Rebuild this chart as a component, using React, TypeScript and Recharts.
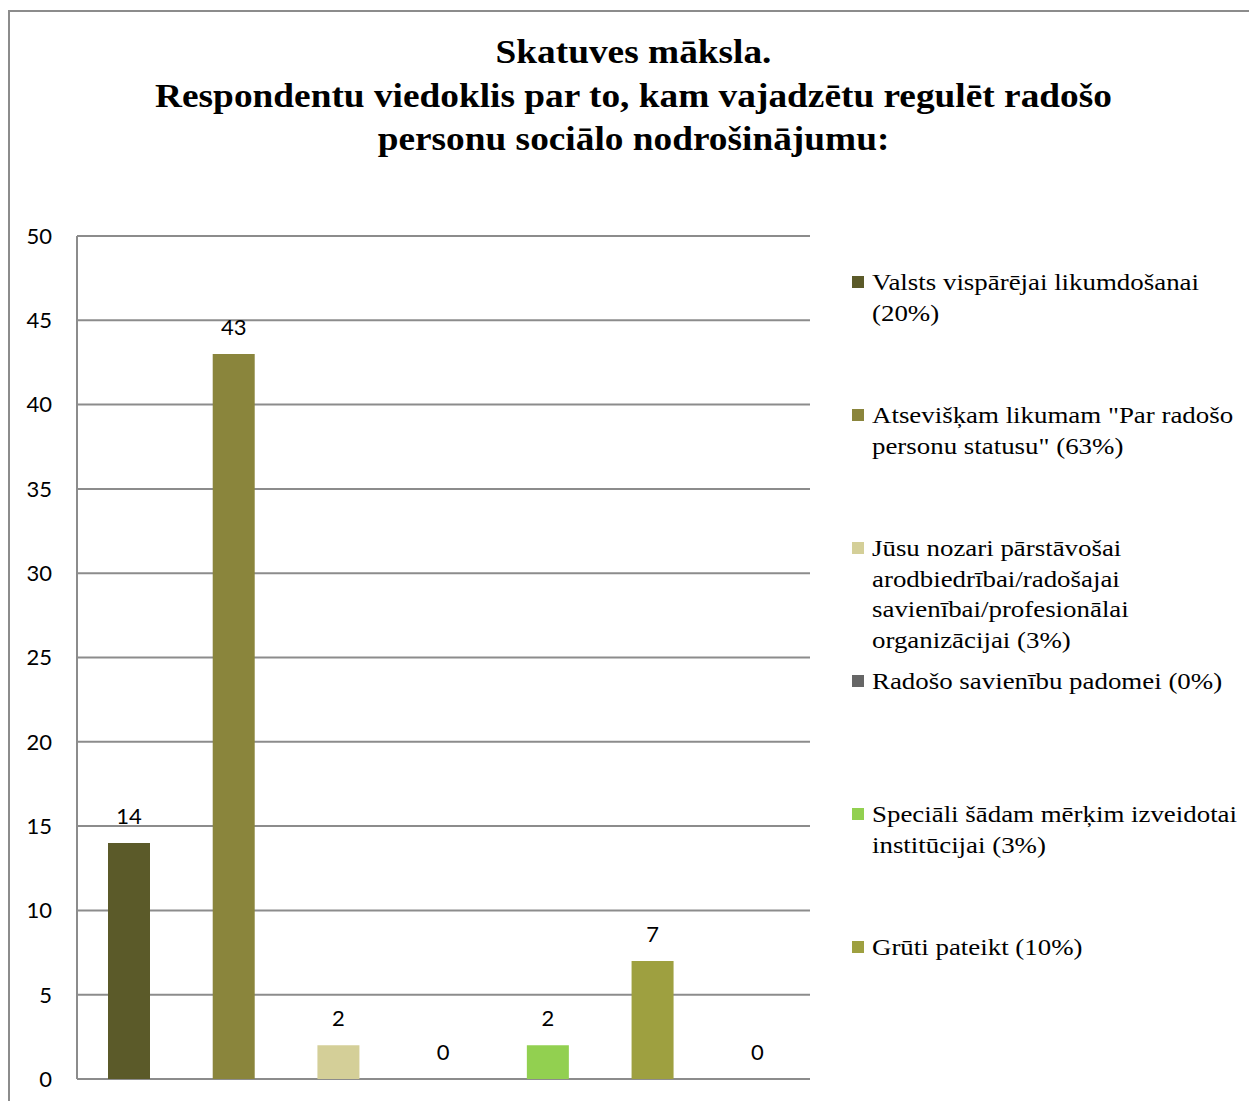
import React from "react";
import { BarChart, Bar, XAxis, YAxis, CartesianGrid, Cell, LabelList } from "recharts";

const titleLines = [
  "Skatuves māksla.",
  "Respondentu viedoklis par to, kam vajadzētu regulēt radošo",
  "personu sociālo nodrošinājumu:",
];

const categories = [
  "Valsts vispārējai likumdošanai (20%)",
  "Atsevišķam likumam \"Par radošo personu statusu\" (63%)",
  "Jūsu nozari pārstāvošai arodbiedrībai/radošajai savienībai/profesionālai organizācijai (3%)",
  "Radošo savienību padomei (0%)",
  "Speciāli šādam mērķim izveidotai institūcijai (3%)",
  "Grūti pateikt (10%)",
  "",
];

const values = [14, 43, 2, 0, 2, 7, 0];

const colors = ["#5b5a29", "#8a853c", "#d4cf98", "#666666", "#92d050", "#9ea040", "#7f7f7f"];

const legendLines = [
  ["Valsts vispārējai likumdošanai", "(20%)"],
  ["Atsevišķam likumam \"Par radošo", "personu statusu\" (63%)"],
  ["Jūsu nozari pārstāvošai", "arodbiedrībai/radošajai", "savienībai/profesionālai", "organizācijai (3%)"],
  ["Radošo savienību padomei (0%)"],
  ["Speciāli šādam mērķim izveidotai", "institūcijai (3%)"],
  ["Grūti pateikt (10%)"],
];

const yTicks = [0, 5, 10, 15, 20, 25, 30, 35, 40, 45, 50];

const data = categories.map((c, i) => ({ name: c, value: values[i] }));

const renderLabel = (props: any) => {
  const { x, y, width, value } = props;
  return (
    <text
      x={Number(x) + Number(width) / 2}
      y={Number(y) - 19}
      textAnchor="middle"
      fill="#000"
      fontSize={22}
      fontFamily="Lato, 'Open Sans', sans-serif"
    >
      {String(value)}
    </text>
  );
};

const LegendBlock = () => (
  <div style={{ position: "absolute", left: 852, top: 267, width: 397, height: 720 }}>
    {legendLines.map((lines, i) => (
      <div key={i} style={{ position: "absolute", left: 0, top: i * 133, width: 397 }}>
        <div
          style={{
            position: "absolute",
            left: 0,
            top: 9,
            width: 12,
            height: 12,
            background: colors[i],
          }}
        />
        <div
          style={{
            position: "absolute",
            left: 20,
            top: 0,
            fontFamily: "'Liberation Serif', 'Times New Roman', serif",
            fontSize: 24,
            lineHeight: "30.5px",
            color: "#000",
            whiteSpace: "nowrap",
            transform: "scaleX(1.12)",
            transformOrigin: "0 0",
          }}
        >
          {lines.map((l, j) => (
            <div key={j}>{l}</div>
          ))}
        </div>
      </div>
    ))}
  </div>
);

export default function App() {
  return (
    <div style={{ position: "absolute", left: 0, top: 0, width: 1249, height: 1101, background: "#fff", overflow: "hidden" }}>
      <div style={{ position: "absolute", left: 8, top: 10, width: 1241, height: 2, background: "#8c8c8c" }} />
      <div style={{ position: "absolute", left: 8, top: 10, width: 2, height: 1091, background: "#8c8c8c" }} />
      <div
        style={{
          position: "absolute",
          left: 0,
          width: 1249,
          top: 30,
          textAlign: "center",
          fontFamily: "'Liberation Serif', 'Times New Roman', serif",
          fontWeight: "bold",
          fontSize: 34,
          lineHeight: "43.5px",
          color: "#000",
        }}
      >
        {titleLines.map((t, i) => (
          <div key={i} style={{ transform: "translateX(9px) scaleX(1.098)", transformOrigin: "50% 0" }}>{t}</div>
        ))}
      </div>
      <div style={{ position: "absolute", left: 0, top: 0 }}>
        <BarChart
          width={1249}
          height={1101}
          data={data}
          margin={{ top: 236, left: 17, right: 439, bottom: 22 }}
          barCategoryGap={0}
        >
          <CartesianGrid horizontal={true} vertical={false} stroke="#8c8c8c" strokeWidth={2} />
          <XAxis dataKey="name" hide />
          <YAxis
            width={60}
            domain={[0, 50]}
            ticks={yTicks}
            interval={0}
            axisLine={{ stroke: "#8c8c8c", strokeWidth: 2 }}
            tickLine={false}
            tickSize={0}
            tickMargin={25}
            tick={{ fill: "#000", fontSize: 22, fontFamily: "Lato, 'Open Sans', sans-serif" }}
          />
          <Bar dataKey="value" barSize={42} minPointSize={0.01} isAnimationActive={false}>
            {data.map((d, i) => (
              <Cell key={i} fill={colors[i]} />
            ))}
            <LabelList dataKey="value" content={renderLabel} />
          </Bar>
        </BarChart>
      </div>
      <LegendBlock />
    </div>
  );
}
